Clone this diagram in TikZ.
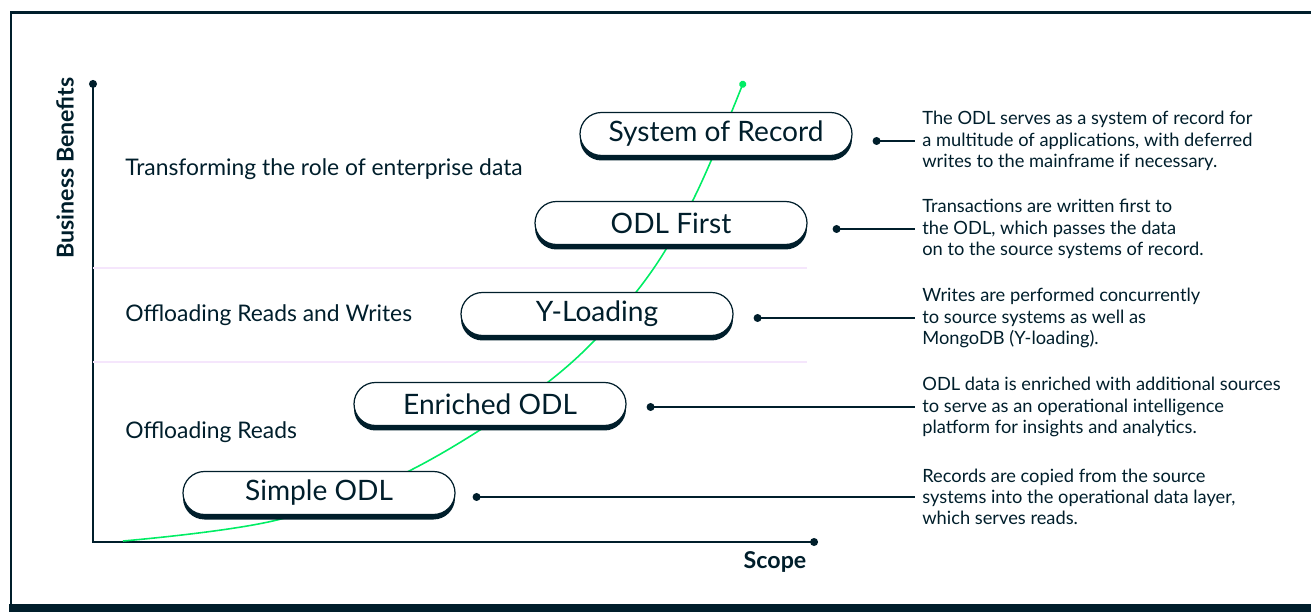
\documentclass[tikz,border=0pt]{standalone}
\usepackage{fontspec}
\setmainfont{Lato}
\usetikzlibrary{arrows.meta,shadows}

\definecolor{slate}{HTML}{001E2B}
\definecolor{leafgreen}{HTML}{00ED64}
\definecolor{lilac}{HTML}{F5E6FC}

\begin{document}
\begin{tikzpicture}[
        pill/.style={draw=slate, line width=0.7pt, fill=white, rounded corners=0.43cm,
            minimum width=5.44cm, minimum height=0.86cm, inner sep=0pt, text=slate,
            font=\fontsize{16}{19}\selectfont,
            drop shadow={shadow xshift=0cm, shadow yshift=-0.1cm, fill=slate, opacity=1}},
        note/.style={anchor=west, align=left, inner sep=0.14cm, text=slate,
            font=\fontsize{10.4}{12.1}\selectfont},
        stage/.style={anchor=west, inner sep=0pt, text=slate,
            font=\fontsize{13}{16}\selectfont},
        leader/.style={draw=slate, line width=0.7pt, {Circle[length=4.5pt]}-},
        axislabel/.style={text=slate, font=\fontsize{13.2}{15}\selectfont\bfseries}]

    \useasboundingbox (0,0) rectangle (26.22,12.24);
    \clip (0,0) rectangle (26.22,12.24);

    % frame
    \draw[slate, line width=1.7pt] (26.5,11.98) -- (0.22,11.98) -- (0.22,0.1);
    \fill[slate] (0.18,0) rectangle (26.5,0.16);

    % axes
    \coordinate (origin) at (1.86,1.40);
    \coordinate (ytop) at (1.86,10.64);
    \coordinate (xend) at (16.36,1.40);
    \draw[slate, line width=1pt, {Circle[length=4.5pt]}-{Circle[length=4.5pt]}] (ytop) -- (origin) -- (xend);

    \node[axislabel, rotate=90] (benefit) at (1.30,8.88) {Business Benefits};
    \node[axislabel] (scope) at (15.5,1.0) {Scope};

    % bands
    \draw[lilac, line width=0.6pt] (1.86,6.88) -- (16.14,6.88);
    \draw[lilac, line width=0.6pt] (1.86,5.00) -- (16.14,5.00);

    \node[stage] (transform) at (2.50,8.86) {Transforming the role of enterprise data};
    \node[stage] (readwrite) at (2.50,5.94) {Offloading Reads and Writes};
    \node[stage] (readonly) at (2.50,3.60) {Offloading Reads};

    % growth curve
    \draw[leafgreen, line width=0.9pt, -{Circle[length=4pt]}]
        plot[smooth, tension=0.6] coordinates {(2.46,1.42) (5.54,1.84) (8.26,2.86)
        (11.04,4.66) (12.74,6.42) (13.86,8.24) (14.88,10.62)};

    % stages
    \node[pill] (simple) at (6.38,2.38) {Simple ODL};
    \node[pill] (enriched) at (9.80,4.16) {Enriched ODL};
    \node[pill] (yload) at (11.94,5.96) {Y-Loading};
    \node[pill] (first) at (13.42,7.78) {ODL First};
    \node[pill] (sor) at (14.32,9.56) {System of Record};

    % notes
    \node[note] (sorNote) at (18.30,9.42) {The ODL serves as a system of record for\\
        a multitude of applications, with deferred\\ writes to the mainframe if necessary.};
    \node[note] (firstNote) at (18.30,7.66) {Transactions are written first to\\
        the ODL, which passes the data\\ on to the source systems of record.};
    \node[note] (yloadNote) at (18.30,5.88) {Writes are performed concurrently\\
        to source systems as well as\\ MongoDB (Y-loading).};
    \node[note] (enrichedNote) at (18.30,4.10) {ODL data is enriched with additional sources\\
        to serve as an operational intelligence\\ platform for insights and analytics.};
    \node[note] (simpleNote) at (18.30,2.30) {Records are copied from the source\\
        systems into the operational data layer,\\ which serves reads.};

    \path (sor.east) ++(0.4,0) coordinate (sorDot);
    \path (first.east) ++(0.5,0) coordinate (firstDot);
    \path (yload.east) ++(0.4,0) coordinate (yloadDot);
    \path (enriched.east) ++(0.4,0) coordinate (enrichedDot);
    \path (simple.east) ++(0.34,0) coordinate (simpleDot);

    \draw[leader] (sorDot |- sorNote.west) -- (sorNote.west);
    \draw[leader] (firstDot |- firstNote.west) -- (firstNote.west);
    \draw[leader] (yloadDot |- yloadNote.west) -- (yloadNote.west);
    \draw[leader] (enrichedDot |- enrichedNote.west) -- (enrichedNote.west);
    \draw[leader] (simpleDot |- simpleNote.west) -- (simpleNote.west);
\end{tikzpicture}
\end{document}
